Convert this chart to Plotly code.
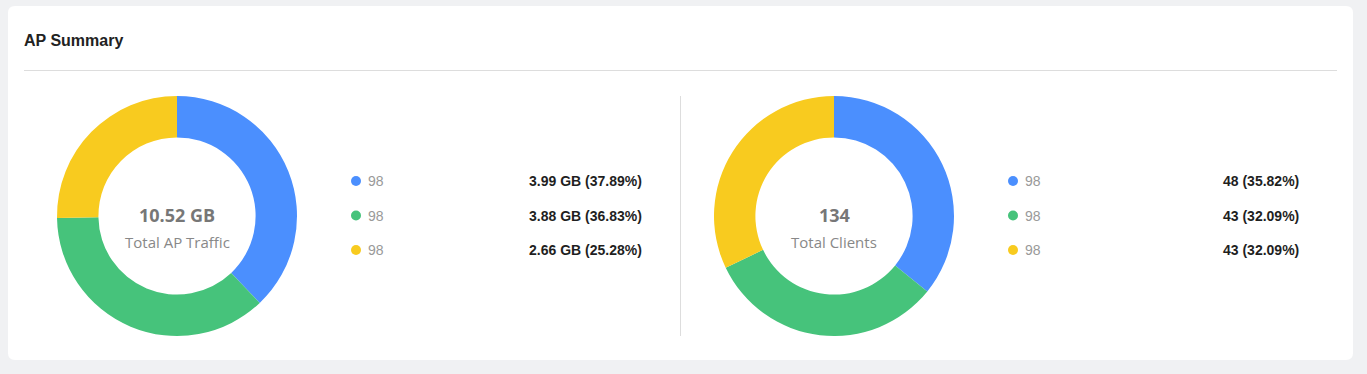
import plotly.graph_objects as go

W, H = 1367, 374

# ---- data ----
traffic_labels = ["98", "98", "98"]
traffic_values = [3.99, 3.88, 2.66]
traffic_text = ["3.99 GB (37.89%)", "3.88 GB (36.83%)", "2.66 GB (25.28%)"]
traffic_total = "10.52 GB"
traffic_caption = "Total AP Traffic"

client_labels = ["98", "98", "98"]
client_values = [48, 43, 43]
client_text = ["48 (35.82%)", "43 (32.09%)", "43 (32.09%)"]
client_total = "134"
client_caption = "Total Clients"

colors = ["#4b8ffe", "#46c37b", "#f8cb1f"]
title = "AP Summary"

# ---- layout helpers (pixel geometry) ----
BG = "#f0f1f3"
R = 120
HOLE = 0.655
panels = [
    dict(cx=177, labels=traffic_labels, values=traffic_values, text=traffic_text,
         total=traffic_total, caption=traffic_caption, dot_x=356, val_x=644),
    dict(cx=834, labels=client_labels, values=client_values, text=client_text,
         total=client_total, caption=client_caption, dot_x=1013, val_x=1301),
]
CY = 216
ROW_Y = [181, 215.5, 250]

fig = go.Figure()
annotations = []

for p in panels:
    x0, x1 = (p["cx"] - R) / W, (p["cx"] + R) / W
    y0, y1 = (H - (CY + R)) / H, (H - (CY - R)) / H
    fig.add_trace(go.Pie(
        labels=[f"{l}-{i}" for i, l in enumerate(p["labels"])],
        values=p["values"],
        hole=HOLE, sort=False, direction="clockwise", rotation=0,
        marker=dict(colors=colors, line=dict(width=0)),
        textinfo="none", hoverinfo="skip", showlegend=False,
        domain=dict(x=[x0, x1], y=[y0, y1]),
    ))
    # legend dots
    fig.add_trace(go.Scatter(
        x=[p["dot_x"]] * len(p["values"]), y=ROW_Y[:len(p["values"])],
        mode="markers", marker=dict(size=10, color=colors, line=dict(width=0)),
        hoverinfo="skip", showlegend=False, xaxis="x", yaxis="y",
    ))
    for i, (lab, txt) in enumerate(zip(p["labels"], p["text"])):
        annotations.append(dict(x=p["dot_x"] + 10, y=ROW_Y[i], xref="x", yref="y",
                                text=lab, showarrow=False, xanchor="left", yanchor="middle",
                                font=dict(family="Liberation Sans, Arial", size=14, color="#999999")))
        annotations.append(dict(x=p["val_x"], y=ROW_Y[i], xref="x", yref="y",
                                text=f"<b>{txt}</b>", showarrow=False, xanchor="right", yanchor="middle",
                                font=dict(family="Liberation Sans, Arial", size=14, color="#1f1f1f")))
    annotations.append(dict(x=p["cx"], y=215, xref="x", yref="y", text=f"<b>{p['total']}</b>",
                            showarrow=False, xanchor="center", yanchor="middle",
                            font=dict(family="Open Sans, Noto Sans", size=18, color="#777777")))
    annotations.append(dict(x=p["cx"], y=242, xref="x", yref="y", text=p["caption"],
                            showarrow=False, xanchor="center", yanchor="middle",
                            font=dict(family="Open Sans, Noto Sans", size=15, color="#888888")))

annotations.append(dict(x=22, y=40, xref="x", yref="y", text=f"<b>{title}</b>",
                        showarrow=False, xanchor="left", yanchor="middle",
                        font=dict(family="Liberation Sans, Arial", size=16, color="#222222")))

# rounded white card
cl, ct, cr, cb, rr = 8, 6, 1353, 360, 7
card = (f"M {cl+rr},{ct} L {cr-rr},{ct} Q {cr},{ct} {cr},{ct+rr} "
        f"L {cr},{cb-rr} Q {cr},{cb} {cr-rr},{cb} L {cl+rr},{cb} Q {cl},{cb} {cl},{cb-rr} "
        f"L {cl},{ct+rr} Q {cl},{ct} {cl+rr},{ct} Z")

shapes = [
    dict(type="path", path=card, xref="x", yref="y", fillcolor="white",
         line=dict(width=0), layer="below"),
    dict(type="line", x0=24, x1=1337, y0=70.5, y1=70.5, xref="x", yref="y",
         line=dict(color="#dddddd", width=1), layer="below"),
    dict(type="line", x0=680.5, x1=680.5, y0=96, y1=336, xref="x", yref="y",
         line=dict(color="#dddddd", width=1), layer="below"),
]

fig.update_layout(
    width=W, height=H,
    margin=dict(l=0, r=0, t=0, b=0),
    paper_bgcolor=BG, plot_bgcolor="rgba(0,0,0,0)",
    xaxis=dict(range=[0, W], domain=[0, 1], visible=False, fixedrange=True),
    yaxis=dict(range=[H, 0], domain=[0, 1], visible=False, fixedrange=True),
    shapes=shapes, annotations=annotations, showlegend=False,
)

fig.write_html(
    "out.html",
    config={"displayModeBar": False},
    post_script=(
        "document.body.style.margin='0';"
        "document.body.style.padding='0';"
        "document.body.style.overflow='hidden';"
        f"document.body.style.background='{BG}';"
    ),
)
